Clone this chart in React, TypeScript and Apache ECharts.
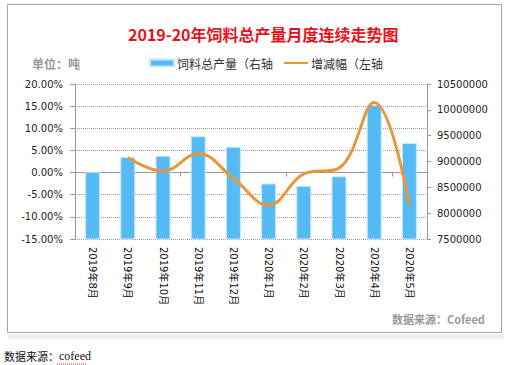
import React, { useEffect, useRef } from "react";
import * as echarts from "echarts";

const categories = [
  "2019年8月", "2019年9月", "2019年10月", "2019年11月", "2019年12月",
  "2020年1月", "2020年2月", "2020年3月", "2020年4月", "2020年5月",
];
// 饲料总产量 (吨, right axis)
const output = [8800000, 9085000, 9110000, 9490000, 9285000, 8575000, 8530000, 8715000, 10095000, 9360000];
// 增减幅 (%, left axis)
const change: (number | string)[] = ["-", 3.4, 0.3, 4.3, -1.3, -7.4, -0.3, 1.0, 15.8, -7.4];

const leftMin = -15, leftMax = 20, leftStep = 5;
const rightMin = 7500000, rightMax = 10500000, rightStep = 500000;

const FONT = "'DejaVu Sans', 'Noto Sans CJK SC', sans-serif";
const CJK = "'Noto Sans CJK SC', sans-serif";

export default function App() {
  const ref = useRef<HTMLDivElement>(null);
  useEffect(() => {
    if (!ref.current) return;
    const chart = echarts.init(ref.current, undefined, { renderer: "svg" });
    const legendBase = {
      top: 57,
      padding: 0,
      itemWidth: 24,
      itemHeight: 7,
      itemGap: 3,
      textStyle: { fontSize: 12, color: "#333", fontFamily: CJK, padding: [0, 0, 0, -2] },
    };
    chart.setOption({
      animation: false,
      backgroundColor: "#ffffff",
      title: {
        text: "2019-20年饲料总产量月度连续走势图",
        left: 123,
        top: 21,
        textStyle: { color: "#E3141C", fontSize: 16, fontWeight: "bold", fontFamily: CJK },
      },
      legend: [
        { ...legendBase, left: 149, data: [{ name: "饲料总产量（右轴", icon: "rect" }] },
        { ...legendBase, left: 283, data: [{ name: "增减幅（左轴", itemStyle: { opacity: 0 } }] },
      ],
      grid: { left: 75, right: 80, top: 84, bottom: 126, containLabel: false, outerBoundsMode: "none" },
      xAxis: [
        {
          type: "category",
          data: categories,
          position: "bottom",
          axisLine: { show: false, onZero: false },
          axisTick: { show: false },
          axisLabel: { rotate: -90, margin: 8, fontSize: 10, color: "#111", fontFamily: FONT, interval: 0 },
        },
        {
          type: "category",
          data: categories,
          position: "bottom",
          axisLine: { show: true, onZero: true, onZeroAxisIndex: 0, lineStyle: { color: "#999", width: 1 } },
          axisTick: { show: true, length: 4, lineStyle: { color: "#999" } },
          axisLabel: { show: false },
          splitLine: { show: false },
        },
      ],
      yAxis: [
        {
          type: "value",
          min: leftMin,
          max: leftMax,
          interval: leftStep,
          position: "left",
          axisLine: { show: true, lineStyle: { color: "#999" } },
          axisTick: { show: true, length: 5, lineStyle: { color: "#999" } },
          axisLabel: {
            formatter: (v: number) => v.toFixed(2) + "%",
            fontSize: 10,
            color: "#222",
            margin: 12,
            fontFamily: FONT,
          },
          splitLine: { show: true, lineStyle: { type: "dotted", color: "#999" } },
        },
        {
          type: "value",
          min: rightMin,
          max: rightMax,
          interval: rightStep,
          position: "right",
          axisLine: { show: true, lineStyle: { color: "#999" } },
          axisTick: { show: true, length: 4, lineStyle: { color: "#999" } },
          axisLabel: { formatter: (v: number) => String(v), fontSize: 10, color: "#222", margin: 10, fontFamily: FONT },
          splitLine: { show: false },
        },
      ],
      series: [
        {
          name: "饲料总产量（右轴",
          type: "bar",
          xAxisIndex: 0,
          yAxisIndex: 1,
          data: output,
          barWidth: 15,
          itemStyle: { color: "#56BBF5", borderColor: "#C6E8FB", borderWidth: 1 },
          z: 2,
        },
        {
          name: "增减幅（左轴",
          type: "line",
          xAxisIndex: 0,
          yAxisIndex: 0,
          data: change,
          smooth: 0.4,
          symbol: "none",
          lineStyle: { color: "#E8963C", width: 3 },
          itemStyle: { color: "#E8963C" },
          z: 3,
        },
      ],
      graphic: [
        {
          type: "rect",
          shape: { x: 8, y: 334, width: 496, height: 5 },
          style: { fill: "#eef2f6" },
          silent: true,
          z: -1,
        },
        {
          type: "rect",
          shape: { x: 7.5, y: 4.5, width: 494, height: 328 },
          style: { fill: "none", stroke: "#a6a6a6", lineWidth: 1 },
          silent: true,
        },
        {
          type: "text",
          left: 32,
          top: 57,
          style: { text: "单位：吨", fill: "#999", font: "bold 12px 'Noto Sans CJK SC', sans-serif" },
        },
        {
          type: "text",
          left: 392,
          top: 313,
          style: { text: "数据来源：Cofeed", fill: "#9a9a9a", font: "bold 11px 'Noto Sans CJK SC', sans-serif" },
        },
        {
          type: "text",
          left: 4,
          top: 350,
          style: {
            text: "{a|数据来源：}{b|cofeed}",
            rich: {
              a: { fontSize: 11, fontFamily: CJK, fill: "#111", color: "#111" },
              b: { fontSize: 12, fontFamily: "'Liberation Serif', serif", fill: "#111", color: "#111" },
            },
          },
        },
        {
          type: "line",
          shape: { x1: 57, y1: 364, x2: 87, y2: 364 },
          style: { stroke: "#d22", lineWidth: 1, lineDash: [1, 1] },
          silent: true,
        },
      ],
    });
    return () => chart.dispose();
  }, []);
  return (
    <div
      ref={ref}
      style={{ position: "absolute", left: 0, top: 0, width: 507, height: 365 }}
    />
  );
}
